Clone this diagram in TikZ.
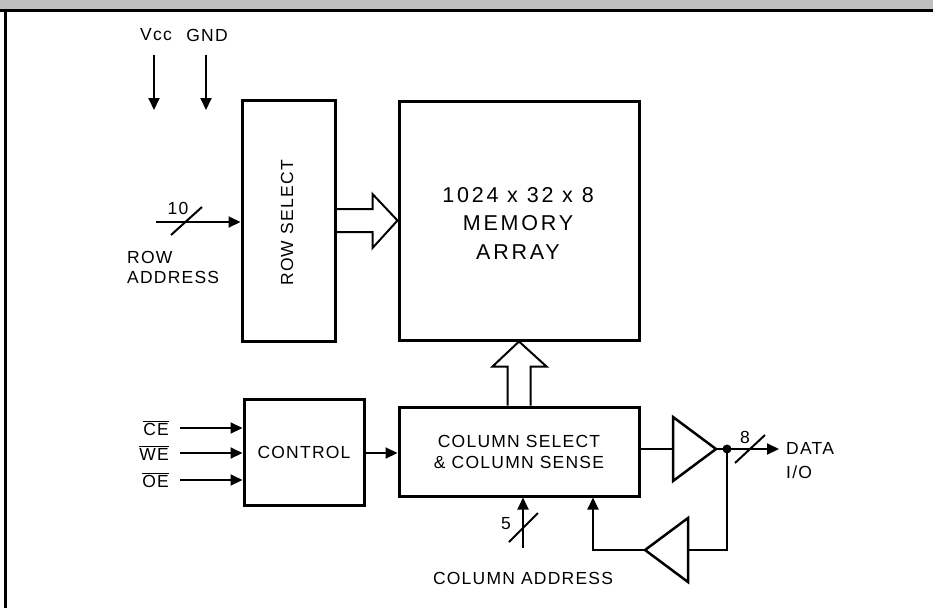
\documentclass[tikz,border=0pt]{standalone}
\usepackage{fontspec}
\setmainfont{Liberation Sans}[LetterSpace=7]
\newfontfamily\memfont{Liberation Sans}[LetterSpace=13]
\usetikzlibrary{arrows.meta,calc}
\begin{document}
\begin{tikzpicture}[x=1pt,y=-1pt,
  blockbox/.style={draw,line width=3pt,rectangle,inner sep=0pt},
  sig/.style={line width=2pt},
  sigarrow/.style={line width=2pt,-{Triangle[length=12pt,width=11pt]}},
  hollow/.style={line width=2pt,line join=miter},
  buf/.style={line width=2.5pt,line join=miter},
  lbl/.style={font=\fontsize{17.5}{20}\selectfont,inner sep=0pt},
  biglbl/.style={font=\memfont\fontsize{21.5}{28.5}\selectfont,inner sep=0pt,align=center}
]
\useasboundingbox (0,0) rectangle (933,608);
% frame
\fill[black!25] (0,0) rectangle (933,8.5);
\draw[line width=3pt] (0,10) -- (933,10);
\draw[line width=3pt] (5.5,8.5) -- (5.5,608);

% blocks
\node[blockbox,minimum width=93pt,minimum height=241pt] (rowsel) at (288.5,220.5) {};
\node[lbl,rotate=90] (rowseltxt) at (287,223) {ROW SELECT};
\node[blockbox,minimum width=240pt,minimum height=239pt] (mem) at (519,220.5) {};
\node[biglbl] (memtxt) at (518,223) {1024 x 32 x 8\\MEMORY\\ARRAY};
\node[blockbox,minimum width=120pt,minimum height=106pt,lbl] (ctrl) at (304,452) {CONTROL};
\node[blockbox,minimum width=240pt,minimum height=89pt,lbl,align=center,
      font=\fontsize{17.5}{21}\selectfont] (col) at (519,451.5) {COLUMN SELECT\\\& COLUMN SENSE};

% power
\node[lbl] (vcc) at (156,35) {Vcc};
\node[lbl] (gnd) at (207,35) {GND};
\coordinate (vccend) at (154,110);
\coordinate (gndend) at (206,110);
\draw[sigarrow] (154,55) -- (vccend);
\draw[sigarrow] (206,55) -- (gndend);

% row address
\coordinate (rastart) at (156,222);
\draw[sigarrow] (rastart) -- (rastart -| rowsel.west);
\coordinate (raS1) at (171,235);
\coordinate (raS2) at (202,207);
\draw[sig] (raS1) -- (raS2);
\node[lbl] (ten) at (178,208) {10};
\node[lbl,align=left,anchor=west] (ratxt) at (127,267) {ROW\\ADDRESS};

% hollow arrow row select -> memory
\draw[hollow] ($(rowsel.east)+(0,-11.5)$) -- ($(rowsel.east)+(36,-11.5)$)
  -- ($(rowsel.east)+(36,-26.5)$) -- (mem.west)
  -- ($(rowsel.east)+(36,27.5)$) -- ($(rowsel.east)+(36,11.5)$)
  -- ($(rowsel.east)+(0,11.5)$);

% hollow arrow column -> memory
\draw[hollow] ($(col.north)+(-11.5,0)$) -- ($(col.north)+(-11.5,-39)$)
  -- ($(col.north)+(-26.5,-39)$) -- (mem.south)
  -- ($(col.north)+(27.5,-39)$) -- ($(col.north)+(11.5,-39)$)
  -- ($(col.north)+(11.5,0)$);

% control inputs
\node[lbl,anchor=east] (ce) at (169,428) {$\overline{\mbox{CE}}$};
\node[lbl,anchor=east] (we) at (169,453) {$\overline{\mbox{WE}}$};
\node[lbl,anchor=east] (oe) at (169,480) {$\overline{\mbox{OE}}$};
\draw[sigarrow] (180,428) -- (180,428 -| ctrl.west);
\draw[sigarrow] (180,453) -- (180,453 -| ctrl.west);
\draw[sigarrow] (180,480) -- (180,480 -| ctrl.west);
\draw[sigarrow] (ctrl.east |- 0,453) -- (col.west |- 0,453);

% output buffer
\coordinate (obA) at (673,417);
\coordinate (obB) at (673,481);
\coordinate (obin) at (673,449);
\coordinate (obout) at (716,449);
\draw[buf] (obA) -- (obout) -- (obB) -- cycle;
\draw[sig] (col.east |- obin) -- (obin);
\coordinate (dot) at (727,449);
\coordinate (dataend) at (779,449);
\draw[sig] (obout) -- (dot);
\draw[sigarrow] (dot) -- (dataend);
\fill (dot) circle (4.5pt);
\draw[sig] (735,463) -- (765,435);
\node[lbl] (eight) at (745,437) {8};
\node[lbl,align=left,anchor=north west,font=\fontsize{17.5}{24}\selectfont] (datatxt) at (786,442) {DATA\\I/O};

% input buffer
\coordinate (ibA) at (688,518);
\coordinate (ibB) at (688,582);
\coordinate (ibin) at (688,550);
\coordinate (ibout) at (645,550);
\draw[buf] (ibA) -- (ibout) -- (ibB) -- cycle;
\coordinate (fbcorner) at (727,550);
\coordinate (fbleft) at (593,550);
\draw[sig] (dot) -- (fbcorner) -- (ibin);
\draw[sigarrow] (ibout) -- (fbleft) -- (fbleft |- col.south);

% column address
\coordinate (castart) at (523,548);
\draw[sigarrow] (castart) -- (castart |- col.south);
\draw[sig] (509,542) -- (538,513);
\node[lbl] (five) at (506,524) {5};
\node[lbl] (catxt) at (523,578) {COLUMN ADDRESS};
\end{tikzpicture}
\end{document}
